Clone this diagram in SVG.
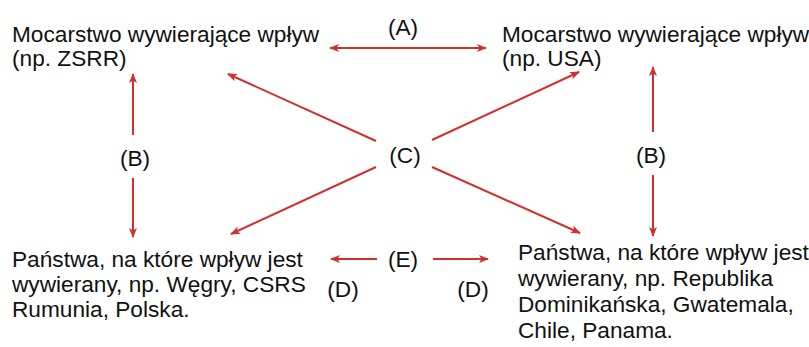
<svg xmlns="http://www.w3.org/2000/svg" width="809" height="347" viewBox="0 0 809 347">
<style>
text{font-family:"Liberation Sans",Arial,sans-serif;font-size:22px;fill:#111}
.m{text-anchor:middle}
.c line{stroke:#d2302f;stroke-width:2;fill:none}
.c .d{marker-start:url(#ah);marker-end:url(#ah)}
.c .s{marker-end:url(#ah)}
</style>
<defs>
<marker id="ah" viewBox="0 0 10 8" refX="9" refY="4" markerWidth="10" markerHeight="8" markerUnits="userSpaceOnUse" orient="auto-start-reverse">
<path d="M0,0 L10,4 L0,8 L2.5,4 z" fill="#d2302f"/>
</marker>
</defs>
<rect width="809" height="347" fill="#fff"/>
<g id="ussr">
<text transform="translate(12,42) scale(1.03,1)">Mocarstwo wywierające wpływ</text>
<text transform="translate(12,66) scale(1.03,1)">(np. ZSRR)</text>
</g>
<g id="usa">
<text transform="translate(502,42) scale(1.03,1)">Mocarstwo wywierające wpływ</text>
<text transform="translate(502,66) scale(1.03,1)">(np. USA)</text>
</g>
<g id="east">
<text transform="translate(12,267) scale(1.03,1)">Państwa, na które wpływ jest</text>
<text transform="translate(12,292) scale(1.03,1)">wywierany, np. Węgry, CSRS</text>
<text transform="translate(12,317) scale(1.03,1)">Rumunia, Polska.</text>
</g>
<g id="west">
<text transform="translate(518,260) scale(1.03,1)">Państwa, na które wpływ jest</text>
<text transform="translate(518,286) scale(1.03,1)">wywierany, np. Republika</text>
<text transform="translate(518,312) scale(1.03,1)">Dominikańska, Gwatemala,</text>
<text transform="translate(518,338) scale(1.03,1)">Chile, Panama.</text>
</g>
<g id="labels">
<text class="m" transform="translate(403,35) scale(1.03,1)">(A)</text>
<text class="m" transform="translate(135,166) scale(1.03,1)">(B)</text>
<text class="m" transform="translate(651,163) scale(1.03,1)">(B)</text>
<text class="m" transform="translate(405,163) scale(1.03,1)">(C)</text>
<text class="m" transform="translate(403,267) scale(1.03,1)">(E)</text>
<text class="m" transform="translate(343,297) scale(1.03,1)">(D)</text>
<text class="m" transform="translate(473,297) scale(1.03,1)">(D)</text>
</g>
<g id="connectors" class="c">
<line class="d" x1="330" y1="48" x2="486" y2="48"/>
<line class="s" x1="133" y1="135" x2="133" y2="74"/>
<line class="s" x1="133" y1="178" x2="133" y2="237"/>
<line class="s" x1="653" y1="132" x2="653" y2="67"/>
<line class="s" x1="653" y1="175" x2="653" y2="236"/>
<line class="s" x1="376" y1="141" x2="228" y2="74"/>
<line class="s" x1="432" y1="140" x2="579" y2="72"/>
<line class="s" x1="376" y1="167" x2="231" y2="234"/>
<line class="s" x1="432" y1="167" x2="580" y2="233"/>
<line class="s" x1="377" y1="259" x2="331" y2="259"/>
<line class="s" x1="433" y1="259" x2="488" y2="259"/>
</g>
</svg>
